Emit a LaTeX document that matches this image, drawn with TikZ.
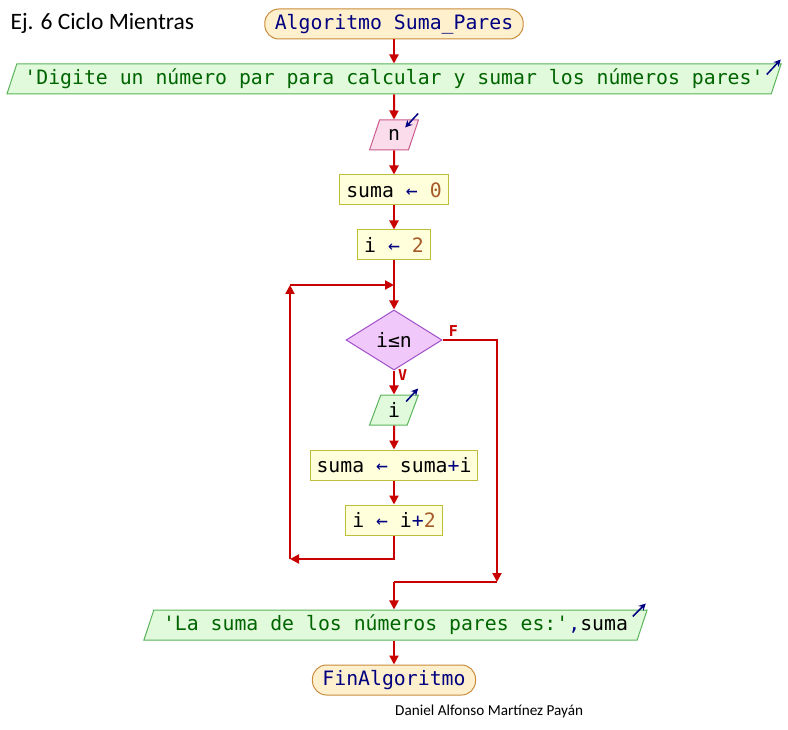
\documentclass[tikz,border=0pt]{standalone}
\usepackage{fontspec}
\setmainfont{Carlito}
\setmonofont{DejaVu Sans Mono}
\usetikzlibrary{shapes.geometric, arrows.meta}
\definecolor{linered}{RGB}{200,0,0}
\definecolor{kwblue}{RGB}{0,0,128}
\definecolor{strgreen}{RGB}{0,100,0}
\definecolor{numbrown}{RGB}{165,90,40}
\definecolor{termfill}{RGB}{255,240,205}
\definecolor{termborder}{RGB}{200,140,60}
\definecolor{outfill}{RGB}{225,250,220}
\definecolor{outborder}{RGB}{90,180,90}
\definecolor{infill}{RGB}{250,220,235}
\definecolor{inborder}{RGB}{200,90,140}
\definecolor{procfill}{RGB}{255,255,220}
\definecolor{procborder}{RGB}{190,190,60}
\definecolor{decfill}{RGB}{240,200,250}
\definecolor{decborder}{RGB}{160,80,200}
\newcommand{\codefont}{\fontsize{19.8}{24}\selectfont\ttfamily}
\newcommand{\strg}[1]{\textcolor{strgreen}{#1}}
\newcommand{\numc}[1]{\textcolor{numbrown}{#1}}
\newcommand{\opc}[1]{\textcolor{kwblue}{#1}}
\tikzstyle{startstop} = [rectangle, rounded corners=14pt, 
minimum height=30pt, 
inner xsep=10pt,
text centered, 
draw=termborder, line width=1pt,
fill=termfill, 
text=kwblue, font=\codefont]
\tikzstyle{io} = [trapezium, 
trapezium stretches=true,
trapezium left angle=70, 
trapezium right angle=110, 
minimum height=30pt, text centered, 
draw=outborder, line width=1pt, fill=outfill, font=\codefont]
\tikzstyle{input} = [io, draw=inborder, fill=infill]
\tikzstyle{process} = [rectangle, 
minimum height=30pt, 
inner xsep=6.5pt,
text centered, 
draw=procborder, line width=1pt,
fill=procfill, font=\codefont]
\tikzstyle{decision} = [diamond, aspect=1.6,
minimum width=96pt, 
minimum height=60pt, 
inner sep=0pt,
text centered,
draw=decborder, line width=1pt,
fill=decfill, font=\codefont]
\tikzstyle{arrow} = [line width=2pt, draw=linered, ->, >={Triangle[length=9pt,width=9pt]}]
\tikzstyle{line} = [line width=2pt, draw=linered]
\tikzstyle{ioarrow} = [line width=1.5pt, draw=kwblue, ->, >={Stealth[length=7pt,width=7pt]}]
\tikzstyle{lbl} = [text=linered, inner sep=1pt, font=\fontsize{15}{17}\selectfont\ttfamily\bfseries]
\begin{document}
\begin{tikzpicture}[x=1pt, y=1pt, node distance=55pt]
    \useasboundingbox (0,0) rectangle (788,-730);
    \node (title) [anchor=west, font=\fontsize{23.5}{28}\selectfont] at (7,-23) {Ej. 6 Ciclo Mientras};

    \node (start) [startstop] at (394,-24) {Algoritmo Suma\_Pares};
    \node (msg) [io, below of=start, minimum width=780pt] {\strg{'Digite un número par para calcular y sumar los números pares'}};
    \node (readn) [input, below of=msg, yshift=-1pt, minimum width=49pt] {n};
    \node (sumazero) [process, below of=readn] {suma \opc{←} \numc{0}};
    \node (itwo) [process, below of=sumazero] {i \opc{←} \numc{2}};
    \node (cond) [decision, below of=itwo, yshift=-40pt] {i≤n};
    \node (showi) [io, below of=cond, yshift=-15pt, minimum width=49pt] {i};
    \node (sumai) [process, below of=showi] {suma \opc{←} suma\opc{+}i};
    \node (iinc) [process, below of=sumai] {i \opc{←} i\opc{+}\numc{2}};
    \node (result) [io, below of=iinc, yshift=-50pt, xshift=1.5pt, minimum width=505pt] {\strg{'La suma de los números pares es:'}\opc{,}suma};
    \node (finish) [startstop, below of=result, xshift=-1.5pt] {FinAlgoritmo};

    \node (author) [anchor=west, inner sep=0pt, font=\fontsize{15.2}{18}\selectfont] at (395,-711) {Daniel Alfonso Martínez Payán};

    % in/out marks
    \draw [ioarrow] ([shift={(-1,6)}]readn.top right corner) -- ++(-13,-14);
    \draw [ioarrow] ([shift={(-15,-11)}]msg.top right corner) -- ++(14,15);
    \draw [ioarrow] ([shift={(-13,-7)}]showi.top right corner) -- ++(12,13);
    \draw [ioarrow] ([shift={(-15,-7)}]result.top right corner) -- ++(13,13);

    \coordinate (join) at (394,-285);
    \coordinate (backtop) at (290,-285);
    \coordinate (backbot) at (290,-559);
    \coordinate (fcorner) at (497,-582);
    \coordinate (merge) at (394,-582);

    \draw [arrow] (start) -- (msg);
    \draw [arrow] (msg) -- (readn);
    \draw [arrow] (readn) -- (sumazero);
    \draw [arrow] (sumazero) -- (itwo);
    \draw [arrow] (itwo) -- (cond);
    \draw [arrow] (cond) -- node[lbl, pos=0.2, right, xshift=2pt] {V} (showi);
    \draw [arrow] (showi) -- (sumai);
    \draw [arrow] (sumai) -- (iinc);
    \draw [arrow] (iinc.south) |- (backbot);
    \draw [arrow] (backbot) -- (backtop);
    \draw [arrow] (backtop) -- (join);
    \draw [arrow] (cond.east) -| node[lbl, pos=0.1, above, yshift=1pt] {F} (fcorner);
    \draw [line] (fcorner) -- (merge);
    \draw [arrow] (merge) -- (merge |- result.north);
    \draw [arrow] (result.south -| finish) -- (finish);
\end{tikzpicture}
\end{document}
